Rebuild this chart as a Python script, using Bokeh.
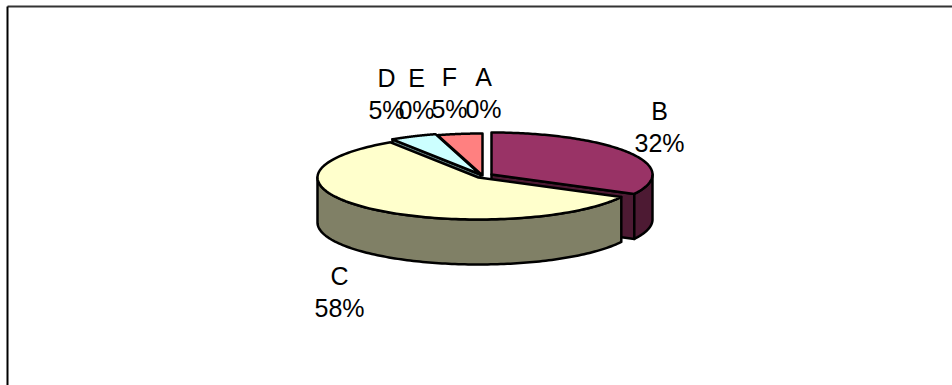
import numpy as np
from bokeh.embed import file_html
from bokeh.models import Range1d
from bokeh.plotting import figure
from bokeh.resources import INLINE
from bokeh.core.properties import value

# Slice shares, in drawing order clockwise from twelve o'clock
categories = ["A", "B", "C", "D", "E", "F"]
shares = [0, 32, 58, 5, 0, 5]

TOP_COLORS = {"A": "#0000FF", "B": "#993366", "C": "#FFFFCC", "D": "#CCFFFF", "E": "#660066", "F": "#FF8080"}
WALL_COLORS = {"A": "#000080", "B": "#4D1A33", "C": "#808066", "D": "#668080", "E": "#330033", "F": "#804040"}

# Tilted-disc geometry in page pixels
RX, RY, DEPTH = 161.0, 42.0, 45.0
CENTERS = {"A": (482, 175), "B": (491, 174), "C": (478, 177), "D": (480, 174), "E": (480, 175), "F": (482, 175)}
FORESHORTEN = 3.0

# Stacked label anchors: name line and percent line share an x
LABEL_X = {"A": 483, "B": 659, "C": 339, "D": 386, "E": 416, "F": 449}
LABEL_Y = {"A": 76, "B": 110, "C": 275, "D": 77, "E": 77, "F": 76}
LINE_GAP = 32


def view_angle(deg):
    return deg - FORESHORTEN * np.sin(np.radians(2 * deg))


def rim(cat, a0, a1, n=120):
    cx, cy = CENTERS[cat]
    t = np.radians(view_angle(np.linspace(a0, a1, n)))
    return cx + RX * np.sin(t), cy - RY * np.cos(t)


p = figure(width=952, height=385, output_backend="svg", toolbar_location=None,
           x_range=Range1d(0, 952), y_range=Range1d(385, 0),
           x_axis_type=None, y_axis_type=None, min_border=0,
           background_fill_color="white", border_fill_color="white", outline_line_color=None)
p.grid.visible = False

# Chart frame: only the top and left edges show
p.line([7, 952], [6, 6], line_color="#333333", line_width=2)
p.line([7, 7], [6, 385], line_color="#000000", line_width=2)

edges = np.concatenate([[0], np.cumsum(shares)]) / sum(shares) * 360
spans = {c: (edges[i], edges[i + 1]) for i, c in enumerate(categories)}
style = dict(line_color="black", line_width=2.5, line_join="round")


def draw_cut_wall(cat, angle):
    cx, cy = CENTERS[cat]
    xr, yr = rim(cat, angle, angle, 1)
    p.patch([cx, xr[0], xr[0], cx], [cy, yr[0], yr[0] + DEPTH, cy + DEPTH],
            fill_color=WALL_COLORS[cat], **style)


def draw_outer_wall(cat, a0, a1):
    xs, ys = rim(cat, a0, a1)
    p.patch(np.concatenate([xs, xs[::-1]]), np.concatenate([ys, ys[::-1] + DEPTH]),
            fill_color=WALL_COLORS[cat], **style)


def draw_top(cat):
    a0, a1 = spans[cat]
    cx, cy = CENTERS[cat]
    xs, ys = rim(cat, a0, a1)
    p.patch(np.concatenate([[cx], xs]), np.concatenate([[cy], ys]),
            fill_color=TOP_COLORS[cat], **style)


# Back slices first, the large front slice last so it overlaps the others
draw_cut_wall("B", spans["B"][1])
draw_outer_wall("B", 90, spans["B"][1])
draw_top("B")
draw_cut_wall("D", spans["D"][0])
draw_top("D")
draw_top("F")
draw_outer_wall("C", spans["C"][0], 270)
draw_top("C")

for c, s in zip(categories, shares):
    p.text([LABEL_X[c]], [LABEL_Y[c]], text=[c], text_align="center", text_baseline="middle",
           text_font=value("Liberation Sans"), text_font_size="25px", text_color="black")
    p.text([LABEL_X[c]], [LABEL_Y[c] + LINE_GAP], text=[f"{s}%"], text_align="center",
           text_baseline="middle", text_font=value("Liberation Sans"), text_font_size="25px",
           text_color="black")

open("out.html", "w").write(file_html(p, INLINE))
